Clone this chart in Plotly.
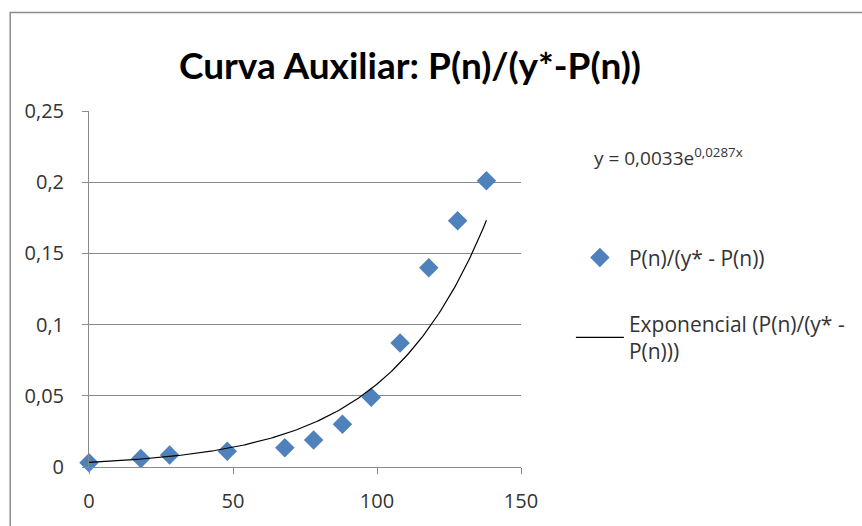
import numpy as np
import plotly.graph_objects as go

# ---- data ----
x_vals = [0, 18, 28, 48, 68, 78, 88, 98, 108, 118, 128, 138]
y_vals = [0.003, 0.006, 0.0085, 0.011, 0.0135, 0.019, 0.030, 0.049, 0.087, 0.140, 0.173, 0.201]
series_name = "P(n)/(y* - P(n))"
trend_name = "Exponencial (P(n)/(y* -<br>P(n)))"
# trendline coefficients as printed on the chart: y = A e^(B x)
TREND_A = 0.0033
TREND_B = 0.0287
title_text = "Curva Auxiliar: P(n)/(y*-P(n))"
eq_text = "y = 0,0033e<sup>0,0287x</sup>"
x_ticks = [0, 50, 100, 150]
y_ticks = [0, 0.05, 0.1, 0.15, 0.2, 0.25]

FONT = "Open Sans"
GRID = "#8a8a8a"
TXT = "#333333"

# plot area in pixels
L, R, T, B = 89, 522, 111, 469
W, H = 862, 526

tx = np.linspace(min(x_vals), max(x_vals), 200)
ty = TREND_A * np.exp(TREND_B * tx)

fig = go.Figure()
fig.add_trace(go.Scatter(
    x=x_vals, y=y_vals, mode="markers", name=series_name,
    marker=dict(symbol="diamond", size=15, color="#4F81BD"),
    legendgroup="a", cliponaxis=False,
))
fig.add_trace(go.Scatter(
    x=tx, y=ty, mode="lines", name=trend_name,
    line=dict(color="#000000", width=1.2),
    legendgroup="b",
))

def px_x(p):
    return (p - L) / (R - L)

def px_y(p):
    return (B - p) / (B - T)

fig.update_layout(
    width=W, height=H,
    margin=dict(l=L, r=W - R, t=T, b=H - B, pad=0),
    paper_bgcolor="white", plot_bgcolor="white",
    separators=",.",
    font=dict(family=FONT, size=19, color=TXT),
    title=dict(text=title_text, x=410 / W, xanchor="center", y=1 - 66 / H, yanchor="middle",
               font=dict(family="Lato", size=37, color="#000000", weight="bold")),
    xaxis=dict(range=[0, 150], tickvals=x_ticks, showgrid=False, zeroline=False,
               showline=True, linecolor=GRID, linewidth=1,
               ticks="outside", ticklen=6, tickcolor=GRID, ticklabelstandoff=10,
               tickfont=dict(size=20, color=TXT)),
    yaxis=dict(range=[0, 0.25], tickvals=y_ticks, showgrid=True, gridcolor=GRID, gridwidth=1,
               zeroline=False, showline=True, linecolor=GRID, linewidth=1,
               ticks="outside", ticklen=6, tickcolor=GRID, ticklabelstandoff=14,
               tickfont=dict(size=20, color=TXT)),
    showlegend=True,
    legend=dict(x=px_x(572), y=px_y(238), xanchor="left", yanchor="top",
                traceorder="grouped", tracegroupgap=36, itemwidth=48,
                bgcolor="rgba(0,0,0,0)", font=dict(size=21, color=TXT)),
    annotations=[dict(text=eq_text, xref="paper", yref="paper", x=px_x(593), y=px_y(157),
                      xanchor="left", yanchor="middle", showarrow=False,
                      font=dict(size=19, color=TXT))],
    shapes=[dict(type="rect", xref="paper", yref="paper",
                 x0=px_x(10), x1=px_x(900), y0=px_y(560), y1=px_y(12),
                 line=dict(color="#8c8c8c", width=1.5), fillcolor="rgba(0,0,0,0)", layer="below")],
)

fig.write_html("out.html", config={"displayModeBar": False},
               post_script="document.body.style.margin='0';")
